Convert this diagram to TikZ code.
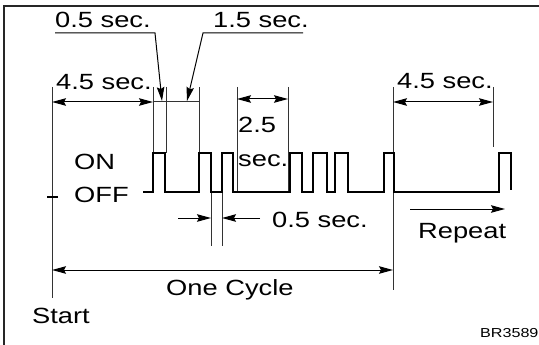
\documentclass[tikz,border=0pt]{standalone}
\usepackage{fontspec}
\setmainfont{Liberation Sans}[FakeStretch=1.24]
\usetikzlibrary{arrows.meta}
\tikzset{
  thin line/.style={line width=1pt, draw=black!80},
  dimarrow/.style={
    {Stealth[length=14pt,width=7.5pt,inset=2pt]}-{Stealth[length=14pt,width=7.5pt,inset=2pt]},
    line width=1pt
  },
  leader/.style={
    -{Stealth[length=14pt,width=7.5pt,inset=2pt]},
    line width=1pt
  },
  signal/.style={line width=2.8pt, line join=miter},
  lbl/.style={
    font=\fontsize{22}{22}\selectfont,
    inner sep=0pt,
    anchor=base west
  }
}
\newcommand{\on}{153}
\newcommand{\off}{192}

\begin{document}
\begin{tikzpicture}[x=1pt, y=-1pt]
  \useasboundingbox (0,0) rectangle (539,345);
  % frame
  \draw[line width=2pt, draw=black!85] (539,6) -- (4,6) -- (4,345);

  % labels
  \node[lbl] (s05top) at (55,28) {0.5 sec.};
  \node[lbl] (s15top) at (213,28) {1.5 sec.};
  \node[lbl] (s45a) at (56,90) {4.5 sec.};
  \node[lbl] (s45b) at (397,89) {4.5 sec.};
  \node[lbl] (s25) at (238,133) {2.5};
  \node[lbl] (s25sec) at (238,167) {sec.};
  \node[lbl] (on) at (74,170) {ON};
  \node[lbl] (off) at (74,202) {OFF};
  \node[lbl] (s05bot) at (272,227) {0.5 sec.};
  \node[lbl] (repeat) at (418,238) {Repeat};
  \node[lbl] (cycle) at (166,295) {One Cycle};
  \node[lbl] (start) at (32,323) {Start};
  \node[lbl, font=\fontsize{13}{13}\selectfont] (code) at (480,337) {BR3589};

  % extension lines
  \coordinate (xs) at (52,87);
  \coordinate (xa) at (153,87);
  \coordinate (xb) at (166,87);
  \coordinate (xc) at (199,87);
  \coordinate (xd) at (237,87);
  \coordinate (xe) at (288,87);
  \coordinate (xf) at (393,87);
  \coordinate (xg) at (493,87);
  \draw[thin line] (xs) -- (52,298);
  \draw[thin line] (xa) -- (153,\on);
  \draw[thin line] (xb) -- (166,\on);
  \draw[thin line] (xc) -- (199,\on);
  \draw[thin line] (xd) -- (237,\off);
  \draw[thin line] (xe) -- (288,\off);
  \draw[thin line] (xf) -- (393,290);
  \draw[thin line] (xg) -- (493,147);
  \draw[thin line] (211,\off) -- (211,246);
  \draw[thin line] (222,\off) -- (222,246);
  \draw[line width=1.6pt] (47,197) -- (58,197);

  % dimensions
  \draw[dimarrow] (52,102) -- (153,102);
  \draw[thin line] (153,102) -- (199,102);
  \draw[dimarrow] (237,99) -- (288,99);
  \draw[dimarrow] (393,102) -- (493,102);
  \draw[dimarrow] (52,270) -- (393,270);
  \draw[leader] (178,218) -- (211,218);
  \draw[leader] (260,218) -- (222,218);
  \draw[leader] (410,209) -- (505,209);

  % leaders from the top labels
  \draw[leader] (55,33) -- (155,33) -- (162,101);
  \draw[leader] (303,33) -- (203,33) -- (187,101);

  % signal
  \draw[signal] (143,\off) -- (153,\off) -- (153,\on) -- (165,\on) -- (165,\off)
    -- (199,\off) -- (199,\on) -- (211,\on) -- (211,\off)
    -- (222,\off) -- (222,\on) -- (233,\on) -- (233,\off)
    -- (290,\off) -- (290,\on) -- (302,\on) -- (302,\off)
    -- (313,\off) -- (313,\on) -- (327,\on) -- (327,\off)
    -- (335,\off) -- (335,\on) -- (348,\on) -- (348,\off)
    -- (384,\off) -- (384,\on) -- (394,\on) -- (394,\off)
    -- (499,\off) -- (499,\on) -- (511,\on) -- (511,190);
\end{tikzpicture}
\end{document}
